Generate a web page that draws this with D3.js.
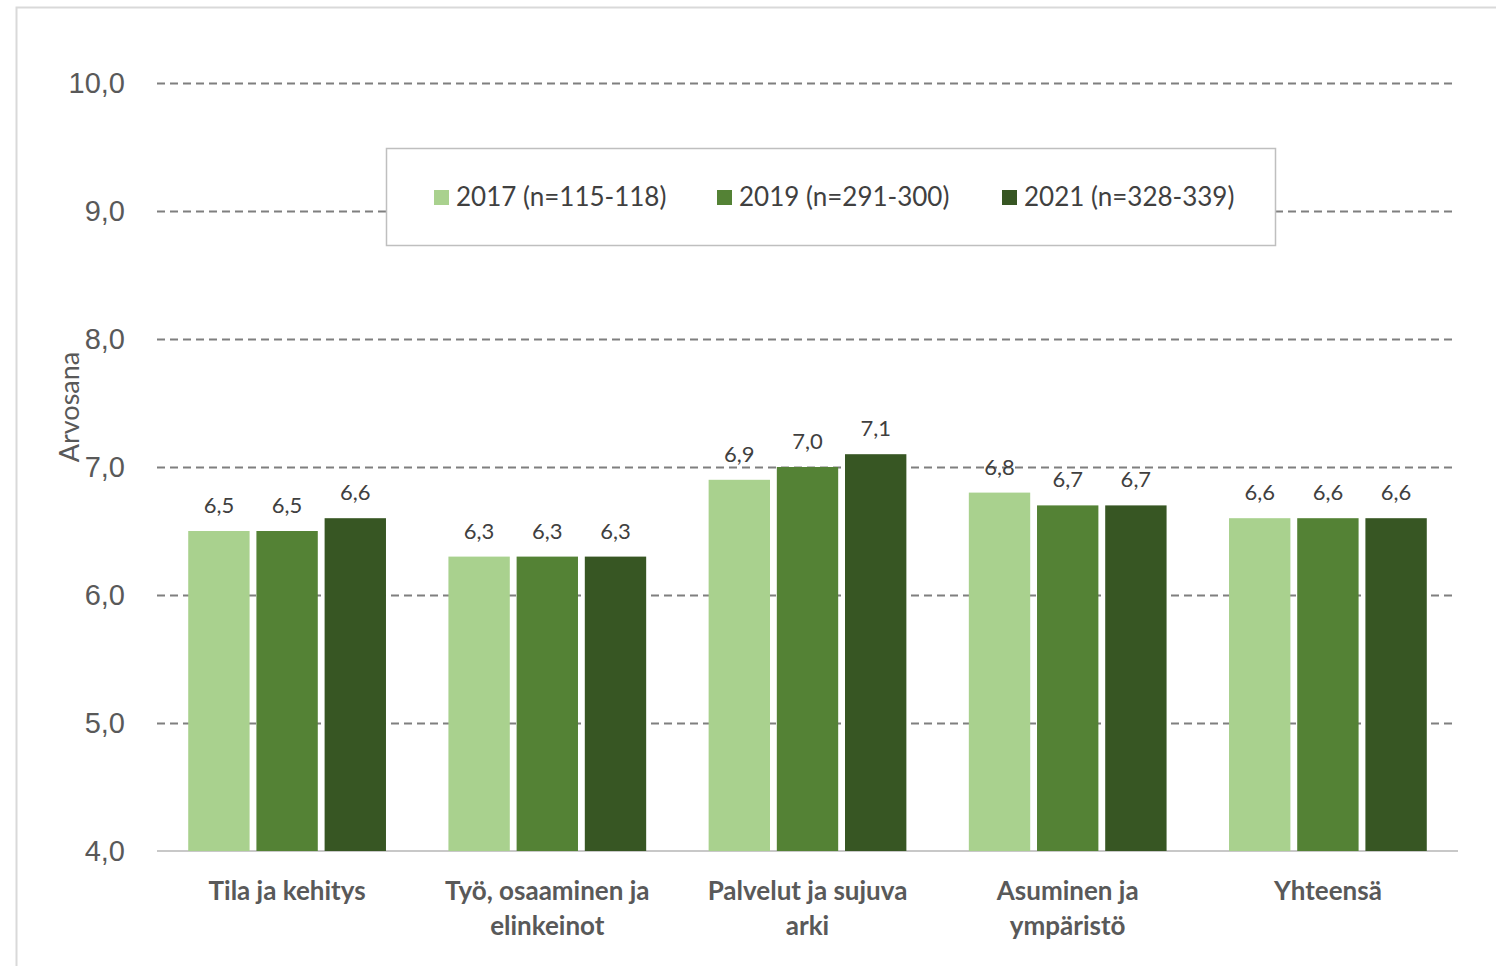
<!DOCTYPE html>
<html>
<head>
<meta charset="utf-8">
<script src="https://cdn.jsdelivr.net/npm/d3@7"></script>
<style>
  body { margin: 0; background: #fff; }
  svg { display: block; font-family: Lato, "Open Sans", sans-serif; }
</style>
</head>
<body>
<div id="chart"></div>
<script>
var width = 1496;
var height = 966;

var categories = [["Tila ja kehitys"], ["Työ, osaaminen ja", "elinkeinot"], ["Palvelut ja sujuva", "arki"], ["Asuminen ja", "ympäristö"], ["Yhteensä"]];
var seriesNames = ["2017 (n=115-118)", "2019 (n=291-300)", "2021 (n=328-339)"];
var values2017 = [6.5, 6.3, 6.9, 6.8, 6.6];
var values2019 = [6.5, 6.3, 7.0, 6.7, 6.6];
var values2021 = [6.6, 6.3, 7.1, 6.7, 6.6];
var yTicks = [4, 5, 6, 7, 8, 9, 10];
var colors = ["#a9d18e", "#548235", "#375623"];

var series = [values2017, values2019, values2021];

var margin = { top: 83, right: 38, bottom: 115, left: 157 };

var svg = d3.select("#chart").append("svg")
  .attr("width", width)
  .attr("height", height);

// chart frame
svg.append("rect")
  .attr("x", 16.5).attr("y", 7.5)
  .attr("width", width + 10).attr("height", height + 10)
  .attr("fill", "none")
  .attr("stroke", "#d9d9d9")
  .attr("stroke-width", 2);

var x0 = d3.scaleBand()
  .domain(d3.range(categories.length))
  .range([margin.left, width - margin.right])
  .paddingInner(0.24)
  .paddingOuter(0.12);

var x1 = d3.scaleBand()
  .domain(d3.range(series.length))
  .range([0, x0.bandwidth()])
  .paddingInner(0.1);

var y = d3.scaleLinear()
  .domain([4, 10])
  .range([height - margin.bottom, margin.top]);

// gridlines + tick labels
var yAxis = d3.axisLeft(y)
  .tickValues(yTicks)
  .tickSize(-(width - margin.right - margin.left - 3))
  .tickPadding(32)
  .tickFormat(function(d) { return d3.format(".1f")(d).replace(".", ","); });

var gy = svg.append("g")
  .attr("transform", "translate(" + margin.left + ",0)")
  .call(yAxis);
gy.select(".domain").remove();
gy.selectAll(".tick line")
  .attr("stroke", "#7f7f7f")
  .attr("stroke-width", 2)
  .attr("stroke-dasharray", "8,5")
  .attr("display", function(d) { return d === 4 ? "none" : null; });
gy.selectAll(".tick text")
  .attr("fill", "#595959")
  .style("font-size", "29px");

// baseline
svg.append("line")
  .attr("x1", margin.left).attr("x2", width - margin.right)
  .attr("y1", y(4)).attr("y2", y(4))
  .attr("stroke", "#c8c8c8")
  .attr("stroke-width", 2);

// bars
var groups = svg.append("g").selectAll("g")
  .data(categories)
  .join("g")
  .attr("transform", function(d, i) { return "translate(" + x0(i) + ",0)"; });

groups.selectAll("rect")
  .data(function(d, i) { return series.map(function(s, j) { return { s: j, v: s[i] }; }); })
  .join("rect")
  .attr("x", function(d) { return x1(d.s); })
  .attr("y", function(d) { return y(d.v); })
  .attr("width", x1.bandwidth())
  .attr("height", function(d) { return y(4) - y(d.v); })
  .attr("fill", function(d) { return colors[d.s]; });

groups.selectAll("text.val")
  .data(function(d, i) { return series.map(function(s, j) { return { s: j, v: s[i] }; }); })
  .join("text")
  .attr("class", "val")
  .attr("x", function(d) { return x1(d.s) + x1.bandwidth() / 2; })
  .attr("y", function(d) { return y(d.v) - 18; })
  .attr("text-anchor", "middle")
  .attr("fill", "#404040")
  .style("font-size", "22px")
  .text(function(d) { return d3.format(".1f")(d.v).replace(".", ","); });

// category labels
var catLabels = svg.append("g").selectAll("text")
  .data(categories)
  .join("text")
  .attr("x", function(d, i) { return x0(i) + x0.bandwidth() / 2; })
  .attr("y", y(4) + 49)
  .attr("text-anchor", "middle")
  .attr("fill", "#595959")
  .style("font-size", "26px")
  .style("font-weight", "bold");
catLabels.selectAll("tspan")
  .data(function(d) { return d; })
  .join("tspan")
  .attr("x", function() { return d3.select(this.parentNode).attr("x"); })
  .attr("dy", function(d, i) { return i === 0 ? 0 : 35; })
  .text(function(d) { return d; });

// y axis title
svg.append("text")
  .attr("transform", "translate(79," + 407 + ") rotate(-90)")
  .attr("text-anchor", "middle")
  .attr("fill", "#595959")
  .style("font-size", "27px")
  .text("Arvosana");

// legend
var legend = svg.append("g");
legend.append("rect")
  .attr("x", 386.5).attr("y", 148.5)
  .attr("width", 889).attr("height", 97)
  .attr("fill", "#fff")
  .attr("stroke", "#bfbfbf")
  .attr("stroke-width", 1.5);

var legendX = [434, 717, 1002];
var items = legend.selectAll("g")
  .data(seriesNames)
  .join("g")
  .attr("transform", function(d, i) { return "translate(" + legendX[i] + ",197)"; });
items.append("rect")
  .attr("x", 0).attr("y", -7)
  .attr("width", 15).attr("height", 15)
  .attr("fill", function(d, i) { return colors[i]; });
items.append("text")
  .attr("x", 22).attr("y", 0)
  .attr("dy", "0.35em")
  .attr("fill", "#404040")
  .style("font-size", "26px")
  .text(function(d) { return d; });
</script>
</body>
</html>
